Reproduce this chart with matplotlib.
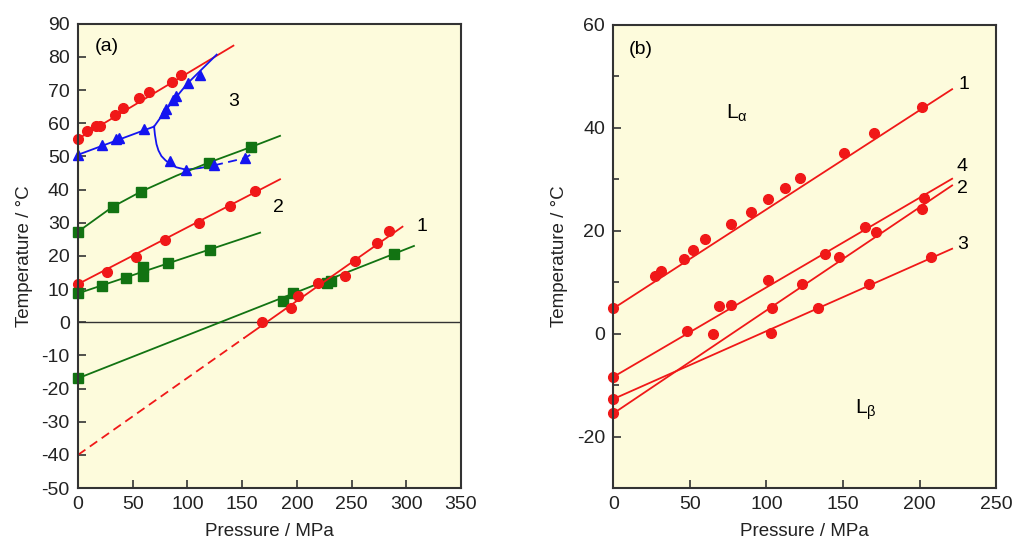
import numpy as np
import matplotlib
matplotlib.use("Agg")
import matplotlib.pyplot as plt
from matplotlib.ticker import MultipleLocator

plt.rcParams['font.family'] = ['Liberation Sans', 'DejaVu Sans']
plt.rcParams['axes.unicode_minus'] = False
plt.rcParams['mathtext.default'] = 'regular'

RED = '#f01818'
GREEN = '#127312'
BLUE = '#1414f0'
BG = '#fdfbdc'

# ---- panel (a) data ----
# top red (circles)
a_red3_p = [0, 8.5, 16, 20, 33.5, 41, 55.5, 65, 86, 94.5]
a_red3_t = [55.3, 57.7, 59.3, 59.3, 62.6, 64.6, 67.5, 69.5, 72.4, 74.6]
a_red3_line_p = [0, 142]
a_red3_line_t = [55.3, 83.4]

# blue triangles
a_blue_p = [0, 22.2, 34.7, 37, 60.3, 78.3, 80.4, 87.1, 89.3, 100.3, 111.5,
            84.3, 98.7, 124.3, 152.6]
a_blue_t = [50.5, 53.3, 55.3, 55.5, 58.2, 63.1, 64.4, 67.1, 68.1, 72.1, 74.6,
            48.5, 46.0, 47.3, 49.5]
a_blue_low_p = [0, 69.5]
a_blue_low_t = [50.5, 59.0]
a_blue_up_p = [69.5, 76, 85, 100, 126.7]
a_blue_up_t = [59.0, 62.0, 66.0, 72.0, 80.7]
a_blue_curve_p = [69.5, 70.3, 71.7, 73.5, 76.2, 80, 84.3, 90, 98.7, 111.5, 124.3]
a_blue_curve_t = [59.0, 56.5, 53.7, 51.8, 50.1, 48.8, 47.7, 46.7, 46.0, 46.5, 47.3]
a_blue_dash_p = [124.3, 152.6, 160]
a_blue_dash_t = [47.3, 49.5, 51.0]

# top green (squares)
a_green3_p = [0, 31.6, 57.6, 120, 157.8]
a_green3_t = [27.3, 34.8, 39.4, 48.0, 52.8]
a_green3_line_p = [0, 31.6, 57.6, 90, 120, 157.8, 184.6]
a_green3_line_t = [27.3, 34.8, 39.4, 44.2, 48.2, 52.8, 56.2]

# middle red (2)
a_red2_p = [0, 26.2, 52.7, 79.3, 110.9, 139, 161.8]
a_red2_t = [11.5, 15.0, 19.8, 24.8, 29.9, 34.9, 39.7]
a_red2_line_p = [0, 184.6]
a_red2_line_t = [11.5, 43.1]

# middle green
a_green2_p = [0, 21.6, 43.9, 59.7, 59.7, 82, 120.4]
a_green2_t = [8.7, 11.0, 13.3, 14.0, 16.6, 17.8, 21.8]
a_green2_line_p = [0, 166.4]
a_green2_line_t = [8.7, 27.0]

# lower red (1)
a_red1_p = [168.5, 194.7, 200.8, 219.7, 244, 253.2, 273.6, 284.6]
a_red1_t = [0.0, 4.2, 7.9, 11.8, 14.0, 18.6, 23.8, 27.6]
a_red1_dash_p = [0, 152]
a_red1_dash_t = [-40.0, -4.7]
a_red1_line_p = [152, 296.5]
a_red1_line_t = [-4.7, 28.8]

# lower green
a_green1_p = [0, 187, 196.6, 227.3, 231, 289]
a_green1_t = [-16.9, 6.4, 8.9, 11.8, 12.5, 20.6]
a_green1_line_p = [0, 307]
a_green1_line_t = [-16.9, 23.0]

# ---- panel (b) data ----
b1_p = [0, 27.4, 30.9, 46.3, 52, 60, 76.8, 89.9, 100.8, 112.3, 121.9, 150.6, 170.2, 201.7]
b1_t = [4.9, 11.2, 12.2, 14.6, 16.2, 18.3, 21.4, 23.6, 26.2, 28.3, 30.3, 35.1, 38.9, 44.1]
b1_line_p = [0, 221.3]
b1_line_t = [4.9, 47.5]

b4_p = [0, 48.3, 69.2, 76.8, 101.2, 138.2, 164.7, 203]
b4_t = [-8.4, 0.5, 5.4, 5.5, 10.4, 15.5, 20.7, 26.4]
b4_line_p = [0, 221.3]
b4_line_t = [-8.4, 30.1]

b2_p = [0, 64.9, 103.8, 123.2, 147.5, 171.9, 201.7]
b2_t = [-15.5, -0.1, 4.9, 9.7, 14.8, 19.8, 24.3]
b2_line_p = [0, 221.3]
b2_line_t = [-15.5, 28.8]

b3_p = [0, 102.9, 133.8, 167.1, 207.8]
b3_t = [-12.7, 0.1, 5.05, 9.7, 14.9]
b3_line_p = [0, 221.3]
b3_line_t = [-12.7, 16.5]

fig = plt.figure(figsize=(10.24, 5.58), dpi=100)
ax_a = fig.add_axes([0.0762, 0.1254, 0.374, 0.832])
ax_b = fig.add_axes([0.599, 0.1254, 0.3737, 0.830])


def style(ax):
    ax.set_facecolor(BG)
    for s in ax.spines.values():
        s.set_color('#333333')
        s.set_linewidth(1.5)
        s.set_zorder(5)
    ax.tick_params(direction='in', length=6, width=1.2, color='#333333',
                   labelsize=14, pad=6, labelcolor='#222222')
    ax.tick_params(which='minor', direction='in', length=4, width=1.2, color='#333333')
    ax.set_xlabel('Pressure / MPa', fontsize=13.5, labelpad=7, color='#222222')
    ax.set_ylabel('Temperature / °C', fontsize=13.5, labelpad=6, color='#222222')


lw = 1.3
ms_c = 7
ms_s = 6.5
ms_t = 7.5

# panel (a)
ax = ax_a
style(ax)
ax.axhline(0, color='#333333', lw=1.0, zorder=1)
ax.plot(a_red3_line_p, a_red3_line_t, color=RED, lw=lw)
ax.plot(a_red3_p, a_red3_t, 'o', color=RED, ms=ms_c, clip_on=False)
ax.plot(a_blue_low_p, a_blue_low_t, color=BLUE, lw=lw)
ax.plot(a_blue_up_p, a_blue_up_t, color=BLUE, lw=lw)
ax.plot(a_blue_curve_p, a_blue_curve_t, color=BLUE, lw=lw)
ax.plot(a_blue_dash_p, a_blue_dash_t, color=BLUE, lw=lw, ls=(0, (5, 3)))
ax.plot(a_green3_line_p, a_green3_line_t, color=GREEN, lw=lw)
ax.plot(a_green3_p, a_green3_t, 's', color=GREEN, ms=ms_s, clip_on=False)
ax.plot(a_blue_p, a_blue_t, '^', color=BLUE, ms=ms_t, clip_on=False)
ax.plot(a_red2_line_p, a_red2_line_t, color=RED, lw=lw)
ax.plot(a_red2_p, a_red2_t, 'o', color=RED, ms=ms_c, clip_on=False)
ax.plot(a_green2_line_p, a_green2_line_t, color=GREEN, lw=lw)
ax.plot(a_green2_p, a_green2_t, 's', color=GREEN, ms=ms_s, clip_on=False)
ax.plot(a_green1_line_p, a_green1_line_t, color=GREEN, lw=lw)
ax.plot(a_green1_p, a_green1_t, 's', color=GREEN, ms=ms_s, clip_on=False)
ax.plot(a_red1_dash_p, a_red1_dash_t, color=RED, lw=lw, ls=(0, (5, 3)))
ax.plot(a_red1_line_p, a_red1_line_t, color=RED, lw=lw)
ax.plot(a_red1_p, a_red1_t, 'o', color=RED, ms=ms_c, clip_on=False)
ax.set_xlim(0, 350)
ax.set_ylim(-50, 90)
ax.xaxis.set_major_locator(MultipleLocator(50))
ax.yaxis.set_major_locator(MultipleLocator(10))
ax.text(0.044, 0.95, '(a)', transform=ax.transAxes, fontsize=14, va='center')
ax.text(142, 66.5, '3', fontsize=14, ha='center', va='center')
ax.text(183, 34.5, '2', fontsize=14, ha='center', va='center')
ax.text(314, 29, '1', fontsize=14, ha='center', va='center')

# panel (b)
ax = ax_b
style(ax)
for lp, lt, pp, pt in [(b1_line_p, b1_line_t, b1_p, b1_t),
                       (b4_line_p, b4_line_t, b4_p, b4_t),
                       (b2_line_p, b2_line_t, b2_p, b2_t),
                       (b3_line_p, b3_line_t, b3_p, b3_t)]:
    ax.plot(lp, lt, color=RED, lw=lw)
    ax.plot(pp, pt, 'o', color=RED, ms=ms_c, clip_on=False)
ax.set_xlim(0, 250)
ax.set_ylim(-30, 60)
ax.xaxis.set_major_locator(MultipleLocator(50))
ax.yaxis.set_major_locator(MultipleLocator(20))
ax.yaxis.set_minor_locator(MultipleLocator(10))
ax.text(0.04, 0.946, '(b)', transform=ax.transAxes, fontsize=14, va='center')
ax.text(229, 48.4, '1', fontsize=14, ha='center', va='center')
ax.text(228, 32.5, '4', fontsize=14, ha='center', va='center')
ax.text(228, 28.3, '2', fontsize=14, ha='center', va='center')
ax.text(228, 17.4, '3', fontsize=14, ha='center', va='center')
ax.text(81, 42.8, 'L$_{α}$', fontsize=15, ha='center', va='center')
ax.text(165, -14.7, 'L$_{β}$', fontsize=15, ha='center', va='center')

fig.savefig('out.png', dpi=100, facecolor='white')
